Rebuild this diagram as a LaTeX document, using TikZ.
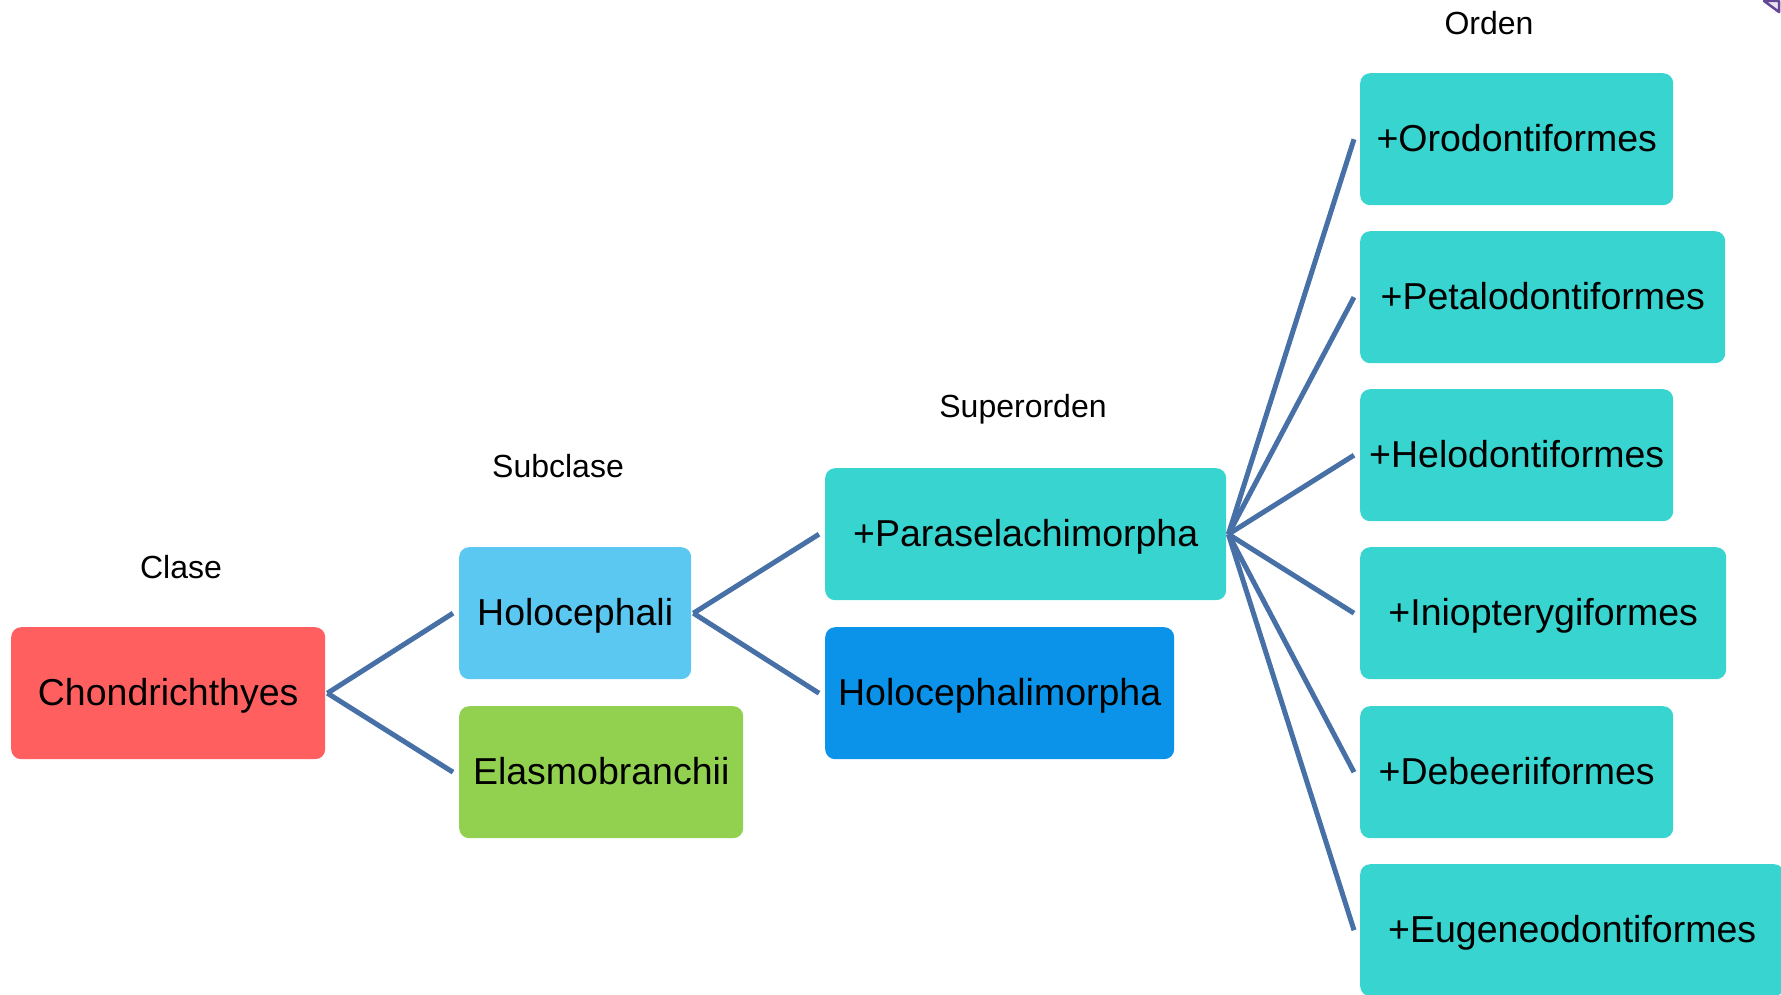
\documentclass[tikz,border=0pt]{standalone}
\usepackage{fontspec}
\setmainfont{Liberation Sans}
\usetikzlibrary{calc}
\definecolor{linkblue}{RGB}{70,112,166}
\definecolor{redbox}{RGB}{255,95,95}
\definecolor{skybox}{RGB}{91,200,242}
\definecolor{greenbox}{RGB}{146,208,80}
\definecolor{tealbox}{RGB}{56,212,207}
\definecolor{bluebox}{RGB}{10,147,232}
\definecolor{cornerpurple}{RGB}{100,70,150}
\begin{document}
\begin{tikzpicture}[x=1pt,y=-1pt,
  taxon/.style={rounded corners=10pt, inner sep=0pt, text height=29pt, text depth=4pt,
    font=\fontsize{37.5}{42}\selectfont, anchor=north west, minimum height=132pt},
  rank/.style={anchor=base, font=\fontsize{32}{37}\selectfont},
  link/.style={draw=linkblue, line width=5pt}]
\useasboundingbox (0,0) rectangle (1781,995);
\clip (0,0) rectangle (1781,995);

% rank headings
\node[rank] (lclase) at (181,578) {Clase};
\node[rank] (lsub)   at (558,477) {Subclase};
\node[rank] (lsup)   at (1023,417) {Superorden};
\node[rank] (lord)   at (1489,35) {Orden};

% class and subclasses
\node[taxon, fill=redbox,   minimum width=314pt] (cls) at (11,627)  {Chondrichthyes};
\node[taxon, fill=skybox,   minimum width=232pt] (hol) at (459,547) {Holocephali};
\node[taxon, fill=greenbox, minimum width=284pt] (ela) at (459,706) {Elasmobranchii};

% superorders
\node[taxon, fill=tealbox,  minimum width=401pt] (par) at (825,468) {+Paraselachimorpha};
\node[taxon, fill=bluebox,  minimum width=349pt] (hlm) at (825,627) {Holocephalimorpha};

% orders
\node[taxon, fill=tealbox, minimum width=313pt] (oro) at (1360,73)  {+Orodontiformes};
\node[taxon, fill=tealbox, minimum width=365pt] (pet) at (1360,231) {+Petalodontiformes};
\node[taxon, fill=tealbox, minimum width=313pt] (hel) at (1360,389) {+Helodontiformes};
\node[taxon, fill=tealbox, minimum width=366pt] (ini) at (1360,547) {+Iniopterygiformes};
\node[taxon, fill=tealbox, minimum width=313pt] (deb) at (1360,706) {+Debeeriiformes};
\node[taxon, fill=tealbox, minimum width=424pt] (eug) at (1360,864) {+Eugeneodontiformes};

% connectors
\foreach \a/\b in {cls/hol, cls/ela, hol/par, hol/hlm,
                   par/oro, par/pet, par/hel, par/ini, par/deb, par/eug}
  \draw[link] ($(\a.east)+(2,0)$) -- ($(\b.west)+(-6,0)$);

% corner mark
\draw[cornerpurple, line width=2.5pt, fill=cornerpurple!15, line join=round]
  (1764,1) -- (1779,1) -- (1779,12) -- cycle;
\end{tikzpicture}
\end{document}
